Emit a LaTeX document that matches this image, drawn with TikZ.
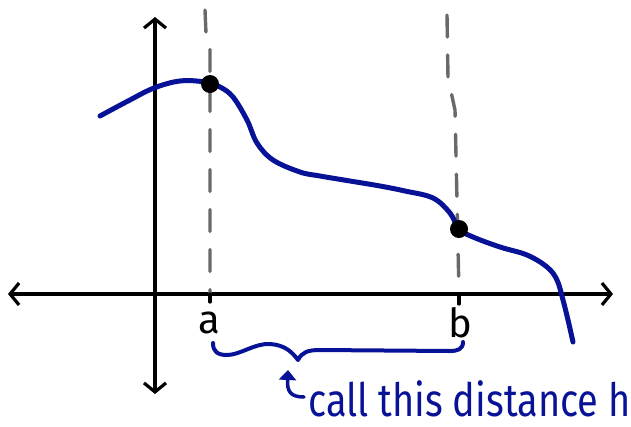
\documentclass[tikz,border=0pt]{standalone}
\usepackage{fontspec}
\setmainfont{Fira Sans}
\usetikzlibrary{arrows.meta}
\definecolor{handblue}{RGB}{8,18,150}
\definecolor{dashgray}{RGB}{105,105,105}
\tikzset{
  axisline/.style={line width=3.2pt, line cap=round, black,
    {Straight Barb[length=9pt,width=22pt,line width=3.2pt]}-{Straight Barb[length=9pt,width=22pt,line width=3.2pt]}},
  guide/.style={line width=3.4pt, dashgray, dash pattern=on 22pt off 18pt, line cap=round},
  curveline/.style={line width=5pt, handblue, line cap=round, line join=round},
  dotmark/.style={circle, fill=black, inner sep=0pt, minimum size=18pt},
  axislabel/.style={font=\fontsize{40}{42}\selectfont, text=black, inner sep=0pt},
  bluelabel/.style={font=\fontsize{46}{48}\selectfont, text=handblue, inner sep=0pt},
}
\begin{document}
\begin{tikzpicture}[x=1pt,y=-1pt]
\useasboundingbox (0,0) rectangle (631,426);
% axes
\coordinate (xl) at (8,294);
\coordinate (xr) at (613,294);
\coordinate (yt) at (155,17);
\coordinate (yb) at (155,394);
\draw[axisline] (xl) -- (xr);
\draw[axisline] (yb) -- (yt);
% guides
\coordinate (at) at (205,10);
\coordinate (ab) at (210,293);
\coordinate (bt) at (447,15);
\coordinate (bb) at (459,293);
\draw[guide] (at) -- (206,33) -- (210,50) -- (ab);
\draw[guide] (bt) -- (448,78) -- (455,110) -- (bb);
% ticks
\draw[line width=3.2pt, line cap=round] (210,294) -- (210,302);
\draw[line width=3.2pt, line cap=round] (459,294) -- (459,304);
% labels
\node[axislabel, anchor=base] (la) at (209,333) {a};
\node[axislabel, anchor=base] (lb) at (460,337) {b};
% curve
\draw[curveline] plot[smooth, tension=0.6] coordinates {
  (100,116) (128,101) (154,88) (180,81) (205,82) (220,87) (233,97) (247,120)
  (257,143) (273,160) (300,172) (320,176) (350,181) (380,186) (405,191)
  (433,198) (450,213) (459,229) (473,237) (500,247) (527,255) (547,267)
  (557,280) (563,300) (568,320) (573,342)};
\node[dotmark] (pa) at (210,84) {};
\node[dotmark] (pb) at (459,229) {};
% brace
\draw[curveline, line width=4pt] (213,343) .. controls (213,352) and (218,355) .. (227,355)
  .. controls (240,355) and (255,343) .. (270,344)
  .. controls (285,345) and (292,352) .. (298,360)
  .. controls (302,352) and (308,350) .. (320,350)
  -- (450,351) .. controls (458,351) and (463,349) .. (463,342);
% label and arrow
\node[bluelabel, anchor=base west] (lab) at (308,416) {\scalebox{0.825}[1]{call this distance h}};
\coordinate (arrstart) at (304,397);
\coordinate (arrtip) at (288,370);
\draw[handblue, line width=3.5pt, line cap=round, -{Triangle[length=10pt,width=17pt]}]
  (arrstart) .. controls (290,397) and (287,391) .. (arrtip);
\end{tikzpicture}
\end{document}
